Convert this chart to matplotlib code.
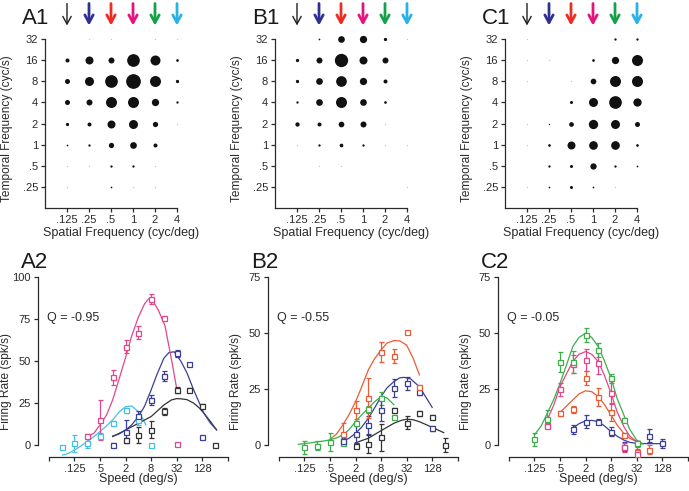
import matplotlib
matplotlib.use("Agg")
import matplotlib.pyplot as plt

plt.rcParams['font.family'] = ['Liberation Sans', 'DejaVu Sans']

# ---- top row: spatial x temporal frequency response grids ----
SF = [0.125, 0.25, 0.5, 1, 2, 4]
TF = [32, 16, 8, 4, 2, 1, 0.5, 0.25]
SF_LABELS = ['.125', '.25', '.5', '1', '2', '4']
TF_LABELS = ['32', '16', '8', '4', '2', '1', '.5', '.25']
ARROW_COLORS = ['#231f20', '#2e3192', '#ed2d24', '#e5157f', '#13a14a', '#29b2e6']

# response (relative dot diameter), rows follow TF, columns follow SF
RESP_A1 = [
    [0, 0.5, 0.5, 0, 0.5, 0.5],
    [4, 8, 6, 12.7, 10, 2.7],
    [5, 9, 12.7, 14.7, 11, 3.3],
    [5, 6, 11, 11, 7.3, 2.3],
    [3.3, 4, 8, 9, 5.3, 1],
    [1.7, 2.3, 5.3, 6.7, 4, 0],
    [1, 1, 2.3, 2.3, 1, 0],
    [0.5, 0, 1.7, 0.7, 0.5, 0],
]
RESP_B1 = [
    [0, 1.7, 6.7, 7.3, 3.3, 0.5],
    [3.3, 6, 13.3, 8, 6, 0],
    [3.3, 6.7, 10.7, 7.3, 4, 0],
    [2.3, 6.7, 11, 6.7, 2.7, 0],
    [4.3, 4, 5.7, 6, 0.5, 0],
    [0.7, 2.3, 3.7, 2.3, 0.5, 0.5],
    [0, 1, 1, 0, 0, 0],
    [0, 0, 0, 0, 0, 0.5],
]
RESP_C1 = [
    [0.7, 0, 0, 0, 2.3, 2.3],
    [0.5, 0.5, 0, 2.7, 7.3, 11],
    [0.5, 0, 0.7, 5.7, 11, 11],
    [0, 0, 3, 9, 12.7, 8.3],
    [0.5, 1.3, 4.7, 9.3, 9, 5],
    [0.7, 2.7, 8, 8.7, 8.7, 2.7],
    [0, 2.3, 3, 6.3, 2.3, 1.7],
    [0.7, 1.7, 3, 1.7, 0.5, 0],
]

# ---- bottom row: speed tuning (speed, rate, sem) and fitted curves ----
SPEED_TICKS = [0.03125, 0.125, 0.5, 2, 8, 32, 128, 512]
SPEED_LABELS = ['', '.125', '.5', '2', '8', '32', '128', '']

BLACK, BLUE, RED, PINK, GREEN, CYAN = '#333333', '#3b3f95', '#ee5a33', '#e2478a', '#3cae4a', '#45bfe9'

A2_CYAN = ([0.0625, 0.125, 0.25, 0.5, 1, 2, 4, 8],
           [-1.4, 1, 1.4, 5.4, 13.3, 20.8, 15, 0],
           [0, 5, 3, 2, 0.5, 1.5, 3, 0])
A2_CYAN_FIT = ([0.065, 0.09, 0.125, 0.18, 0.25, 0.36, 0.5, 0.72, 1, 1.4, 2, 2.8, 4, 5, 6],
               [-6, -5, -3, -0.5, 2, 5, 8, 11.5, 15, 19.5, 22.8, 23.2, 19.8, 16, 12])
A2_PINK = ([0.25, 0.5, 1, 2, 4, 8, 16, 32],
           [5.4, 14.9, 40.3, 58.5, 66.8, 86.7, 75.4, 0.6],
           [1, 12, 4.5, 4, 4, 3, 1, 0])
A2_PINK_FIT = ([0.25, 0.36, 0.5, 0.72, 1, 1.4, 2, 2.8, 4, 5.6, 7, 8.5, 12, 17, 25, 33],
               [5, 7, 12, 18, 27, 39, 52, 65, 76, 84, 87, 86.5, 80, 71, 49, 32])
A2_BLUE = ([1, 2, 4, 8, 16, 32, 64, 128],
           [0, 8, 17.5, 27, 41, 54.5, 48, 5],
           [1, 7, 3, 3, 3, 2, 1, 0])
A2_BLUE_FIT = ([1, 1.4, 2, 2.8, 4, 5.6, 8, 11, 16, 21, 28, 40, 56, 80, 110, 140, 200, 280],
               [5.4, 6.5, 8.9, 12, 16.9, 23, 32.7, 42, 51.6, 55, 55.5, 50, 43, 33, 25, 19, 13, 9])
A2_BLACK = ([2, 4, 8, 16, 32, 64, 128, 256],
            [3, 6, 9, 20, 32.7, 32.7, 23.5, 0],
            [1, 5, 5, 2, 2, 1, 1, 0])
A2_BLACK_FIT = ([1, 2, 4, 8, 16, 24, 32, 40, 56, 80, 110, 140, 200, 280],
                [5, 8.9, 12.9, 16.9, 23.8, 26.8, 27.6, 27.5, 27, 25, 22, 19, 14, 9])

B2_GREEN = ([0.125, 0.25, 0.5, 1, 2, 4, 8, 16],
            [-1, -0.3, 1.5, 1, 9.7, 15.9, 20.8, 12.6],
            [3, 2, 4, 1, 1, 1.5, 3, 1])
B2_GREEN_FIT = ([0.09, 0.125, 0.18, 0.25, 0.36, 0.5, 0.72, 1, 1.4, 2, 2.8, 4, 5.6, 8, 11, 16],
                [0.3, 0.6, 1, 1.4, 1.8, 2.3, 3.2, 4.5, 6.8, 10.4, 13.5, 16.4, 19.3, 21.6, 21, 18])
B2_RED = ([1, 2, 4, 8, 16, 32, 64],
          [5, 15.6, 21, 41.7, 39.7, 50.6, 26],
          [5, 4, 9, 4.5, 3, 0, 1])
B2_RED_FIT = ([0.5, 0.72, 1, 1.4, 2, 2.8, 4, 5.6, 8, 11, 16, 22, 32, 45, 64],
              [2.5, 5, 8.9, 13.5, 19.3, 26, 33.5, 38.5, 42.4, 45.5, 46.6, 46.5, 44.6, 39, 31.3])
B2_BLUE = ([1, 2, 4, 8, 16, 32, 64, 128],
           [2, 5, 9, 15.6, 25.3, 27.5, 23.5, 7.4],
           [1, 4, 4, 5, 4, 3, 1, 1])
B2_BLUE_FIT = ([1, 1.4, 2, 2.8, 4, 5.6, 8, 11, 16, 22, 28, 40, 64, 90, 128],
               [1.5, 3, 5.2, 8, 11.9, 16.5, 21.6, 25.5, 28.3, 30, 30.2, 29.5, 26, 21.5, 16.8])
B2_BLACK = ([2, 4, 8, 16, 32, 64, 128, 256],
            [-0.3, 0.4, 3.4, 15.6, 10, 14.1, 12.4, 0],
            [1, 4, 6, 1, 3, 1, 1, 3])
B2_BLACK_FIT = ([2, 4, 8, 16, 24, 32, 45, 64, 128, 240],
                [1, 3, 6.4, 9.7, 11, 11.5, 11.3, 10.4, 7.9, 5.5])

C2_GREEN = ([0.125, 0.25, 0.5, 1, 2, 4, 8, 16, 32],
            [2.5, 11.5, 37.2, 37, 49.1, 42.4, 29.8, 11.2, 0.7],
            [3, 4, 4.5, 5, 3, 3, 2, 1, 1])
C2_GREEN_FIT = ([0.125, 0.18, 0.25, 0.36, 0.5, 0.72, 1, 1.4, 2, 2.8, 4, 5.6, 8, 11, 16, 22, 32, 45],
                [4.5, 8.5, 14.1, 20.5, 27.5, 36, 43.9, 48, 49.9, 48, 43.9, 37.5, 29.8, 21, 13.4, 7, 2.2, 0.4])
C2_PINK = ([0.25, 0.5, 1, 2, 4, 8, 16, 32],
           [8.5, 24.9, 36, 37.9, 36.5, 23.4, -1, -4],
           [1, 3, 4, 5, 5, 5, 2, 2])
C2_PINK_FIT = ([0.25, 0.36, 0.5, 0.72, 1, 1.4, 2, 2.8, 4, 5.6, 8, 11, 16, 22, 32],
               [11.2, 18, 26, 32, 37.2, 40.5, 41.7, 40.5, 37.2, 31, 23, 15, 8.2, 4, 1.5])
C2_RED = ([0.25, 0.5, 1, 2, 4, 8, 16, 32, 64],
          [9, 14.1, 15.9, 30, 21.6, 14.9, 4.5, -3, -2.2],
          [1, 1, 1.5, 3, 4, 4, 1, 2, 2])
C2_RED_FIT = ([0.5, 0.72, 1, 1.4, 2, 2.8, 4, 5.6, 8, 11, 16, 22, 32],
              [14.5, 17.5, 20.1, 22.8, 24.2, 23.8, 21.6, 18, 13.4, 9, 5.2, 3, 1.5])
C2_BLUE = ([1, 2, 4, 8, 16, 32, 64, 128],
           [7, 10.4, 10.4, 6, -0.7, 0.7, 4.2, 0.7],
           [2, 3, 1, 2, 2, 1, 3, 2])
C2_BLUE_FIT = ([1, 1.4, 2, 2.8, 4, 5.6, 8, 11, 16, 22, 32, 64, 128],
               [7.4, 9.5, 10.8, 11, 10.4, 8.5, 6, 4, 2.2, 1.2, 0.7, 0.6, 0.6])

TXT = '#2a2a2a'
fig = plt.figure(figsize=(6.89, 4.91), dpi=100)
W, H = 689, 491


def px_axes(left, top, right, bottom):
    return fig.add_axes([left / W, 1 - bottom / H, (right - left) / W, (bottom - top) / H])


def style(ax):
    for s in ('top', 'right'):
        ax.spines[s].set_visible(False)
    for s in ('left', 'bottom'):
        ax.spines[s].set_color(TXT)
        ax.spines[s].set_linewidth(0.9)
    ax.tick_params(direction='out', length=3, width=0.9, color=TXT, labelsize=8, labelcolor=TXT, pad=2)


def grid_panel(x0, resp, letter):
    ax = px_axes(x0, 39, x0 + 132, 208)
    style(ax)
    ax.set_xscale('log', base=2)
    ax.set_yscale('log', base=2)
    ax.set_xlim(0.0625, 4)
    ax.set_ylim(0.125, 32)
    for i, tf in enumerate(TF):
        for j, sf in enumerate(SF):
            d = resp[i][j]
            if d <= 0:
                continue
            col = '#111111' if d >= 1.2 else '#c8c8c8'
            dd = max(d, 1.4)
            ax.scatter(sf, tf, s=(dd * 0.72) ** 2, color=col, lw=0, clip_on=False, zorder=3)
    ax.set_xticks(SF)
    ax.set_xticklabels(SF_LABELS)
    ax.set_yticks(TF)
    ax.set_yticklabels(TF_LABELS)
    ax.minorticks_off()
    ax.set_xlabel('Spatial Frequency (cyc/deg)', fontsize=9, color=TXT)
    ax.xaxis.set_label_coords(0.58, -0.115)
    ax.set_ylabel('Temporal Frequency (cyc/s)', fontsize=8.6, color=TXT)
    ax.yaxis.set_label_coords(-0.245, 0.47)
    for sf, c in zip(SF, ARROW_COLORS):
        lw = 1.0 if c == ARROW_COLORS[0] else 2.0
        ax.annotate('', xy=(sf, 1.08), xytext=(sf, 1.21), xycoords=('data', 'axes fraction'),
                    textcoords=('data', 'axes fraction'), annotation_clip=False,
                    arrowprops=dict(arrowstyle='->,head_length=0.55,head_width=0.3', color=c, lw=lw,
                                    shrinkA=0, shrinkB=0))
    fig.text((x0 - 23) / W, 1 - 24.5 / H, letter, fontsize=16, color='#1a1a1a', va='baseline')


def speed_panel(x0, series, ymax, yticks, q, letter):
    ax = px_axes(x0, 277, x0 + 190, 457)
    style(ax)
    ax.set_xscale('log', base=2)
    unit = 168 / ymax
    ax.set_xlim(0.0173, 520)
    ax.set_ylim(-12 / unit, ymax)
    ax.spines['left'].set_bounds(0, ymax)
    ax.spines['bottom'].set_bounds(0.03125, 512)
    for col, pts, fit in series:
        ax.plot(fit[0], fit[1], color=col, lw=0.9, zorder=2)
        ax.errorbar(pts[0], pts[1], yerr=pts[2], fmt='s', mfc='white', mec=col, ecolor=col,
                    ms=3.6, mew=0.9, capsize=1.8, elinewidth=0.9, capthick=0.9, zorder=3)
    ax.set_xticks(SPEED_TICKS)
    ax.set_xticklabels(SPEED_LABELS)
    ax.set_yticks(yticks)
    ax.minorticks_off()
    ax.set_xlabel('Speed (deg/s)', fontsize=9, color=TXT)
    ax.xaxis.set_label_coords(0.53, -0.09)
    ax.set_ylabel('Firing Rate (spk/s)', fontsize=8.6, color=TXT)
    ax.yaxis.set_label_coords(-0.135, 0.42)
    ax.text(0.047, 0.772, q, transform=ax.transAxes, fontsize=9, color=TXT, va='center')
    fig.text((x0 - 17) / W, 1 - 268.5 / H, letter, fontsize=16, color='#1a1a1a', va='baseline')


grid_panel(45, RESP_A1, 'A1')
grid_panel(275, RESP_B1, 'B1')
grid_panel(505, RESP_C1, 'C1')

speed_panel(38, [(CYAN, A2_CYAN, A2_CYAN_FIT), (BLACK, A2_BLACK, A2_BLACK_FIT),
                 (BLUE, A2_BLUE, A2_BLUE_FIT), (PINK, A2_PINK, A2_PINK_FIT)],
            100, [0, 25, 50, 75, 100], 'Q = -0.95', 'A2')
speed_panel(268, [(BLACK, B2_BLACK, B2_BLACK_FIT), (GREEN, B2_GREEN, B2_GREEN_FIT),
                  (BLUE, B2_BLUE, B2_BLUE_FIT), (RED, B2_RED, B2_RED_FIT)],
            75, [0, 25, 50, 75], 'Q = -0.55', 'B2')
speed_panel(498, [(BLUE, C2_BLUE, C2_BLUE_FIT), (RED, C2_RED, C2_RED_FIT),
                  (PINK, C2_PINK, C2_PINK_FIT), (GREEN, C2_GREEN, C2_GREEN_FIT)],
            75, [0, 25, 50, 75], 'Q = -0.05', 'C2')

fig.savefig('out.png', dpi=100)
